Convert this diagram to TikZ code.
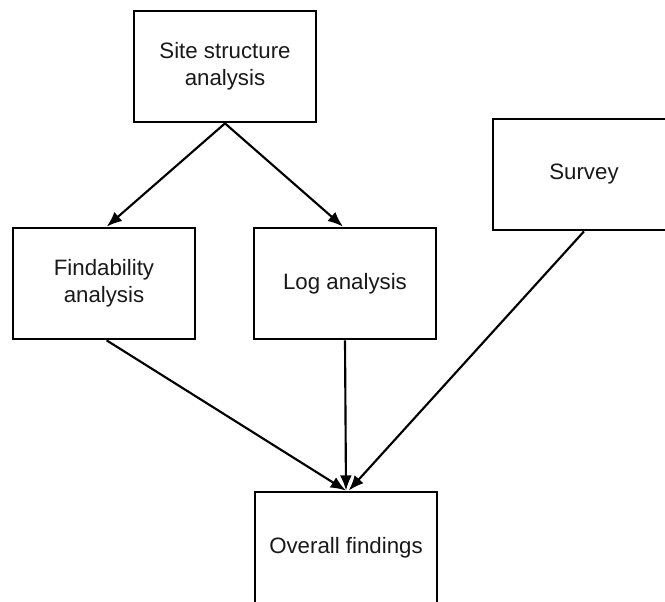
\documentclass[tikz,border=0pt]{standalone}
\usepackage{fontspec}
\setmainfont{Liberation Sans}
\usetikzlibrary{arrows.meta}
\begin{document}
\begin{tikzpicture}[x=0.75pt,y=-0.75pt,
  box/.style={draw=black, line width=1.8pt, minimum width=136.5pt, minimum height=83.5pt,
    align=center, font=\fontsize{16.7pt}{20.5pt}\selectfont, inner sep=0pt, text=black!90},
  arr/.style={line width=1.6pt, draw=black, -{Latex[length=11.5pt,width=9pt]}}]
\useasboundingbox (0,0) rectangle (665,601);
\clip (0,0) rectangle (665,601);
\fill[white] (0,0) rectangle (665,601);
\node[box] (site) at (225,66.5) {Site structure\\analysis};
\node[box] (find) at (104,283.5) {Findability\\analysis};
\node[box] (log) at (345,283.5) {Log analysis};
\node[box] (survey) at (584,174.5) {Survey};
\node[box] (overall) at (346,547.5) {Overall findings};
\draw[arr] (site.south) -- ([xshift=2pt]find.north);
\draw[arr] (site.south) -- ([xshift=-1.5pt]log.north);
\draw[arr] ([xshift=2pt]find.south) -- (overall.north);
\draw[arr] (log.south) -- (overall.north);
\draw[arr] (survey.south) -- ([xshift=2pt]overall.north);
\end{tikzpicture}
\end{document}
